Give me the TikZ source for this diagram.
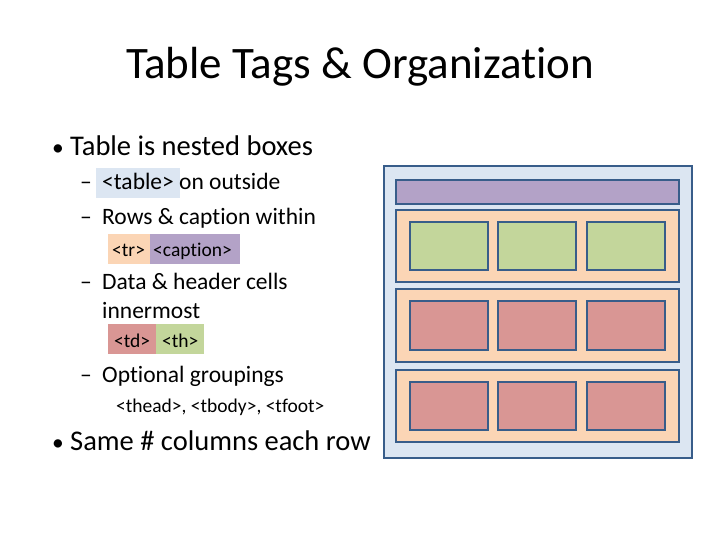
\documentclass[tikz,border=0pt]{standalone}
\usepackage{fontspec}
\setmainfont{Carlito}[Ligatures={NoCommon}]
\definecolor{tblue}{HTML}{DCE6F2}
\definecolor{tborder}{HTML}{385D8A}
\definecolor{tpurple}{HTML}{B3A2C7}
\definecolor{tpeach}{HTML}{FBD5B5}
\definecolor{tgreen}{HTML}{C3D69B}
\definecolor{tred}{HTML}{D99694}
\begin{document}
\begin{tikzpicture}[x=1pt,y=-1pt,
  box/.style={draw=tborder,line width=2.5pt},
  txt/.style={anchor=base west,inner sep=0pt},
  big/.style={font=\fontsize{28.5}{32}\selectfont},
  mid/.style={font=\fontsize{23.5}{28}\selectfont},
  sml/.style={font=\fontsize{19.5}{22}\selectfont}]
\useasboundingbox (0,0) rectangle (720,540);
\node (title) at (360,67) {\fontsize{45}{50}\selectfont Table Tags \& Organization};
% highlights
\fill[tblue] (96,168) rectangle (180,198);
\fill[tpeach] (108,234) rectangle (150,264);
\fill[tpurple] (150,234) rectangle (240,264);
\fill[tred] (108,324) rectangle (156,354);
\fill[tgreen] (156,324) rectangle (204,354);
\node[txt,mid] (d0) at (52,156) {•};
\node[txt,big] (b1) at (70,156) {Table is nested boxes};
\node[txt,mid] (d1) at (80,190) {–};
\node[txt,mid] (s1) at (102,190) {<table> on outside};
\node[txt,mid] (d2) at (80,225) {–};
\node[txt,mid] (s2) at (102,225) {Rows \& caption within};
\node[txt,sml] (l1) at (112,256) {<tr>};
\node[txt,sml] (l1b) at (153,256) {<caption>};
\node[txt,mid] (d3) at (80,289) {–};
\node[txt,mid] (s3) at (102,289) {Data \& header cells};
\node[txt,mid] (s3b) at (102,318) {innermost};
\node[txt,sml] (l2) at (114,347) {<td>};
\node[txt,sml] (l2b) at (162,347) {<th>};
\node[txt,mid] (d4) at (80,382) {–};
\node[txt,mid] (s4) at (102,382) {Optional groupings};
\node[txt,sml] (l3) at (116,412) {<thead>, <tbody>, <tfoot>};
\node[txt,mid] (d5) at (52,450) {•};
\node[txt,big] (b2) at (70,450) {Same \# columns each row};
% diagram
\draw[box,fill=tblue] (384,166) rectangle (692,458);
\draw[box,fill=tpurple] (396,180) rectangle (679,204);
\foreach \t/\b/\c in {210/282/tgreen,289/362/tred,370/442/tred}{
  \draw[box,fill=tpeach] (396,\t) rectangle (679,\b);
  \foreach \x in {410,498,587}{
    \draw[box,fill=\c] (\x,\t+12) rectangle (\x+78,\b-12);
  }
}
\end{tikzpicture}
\end{document}
